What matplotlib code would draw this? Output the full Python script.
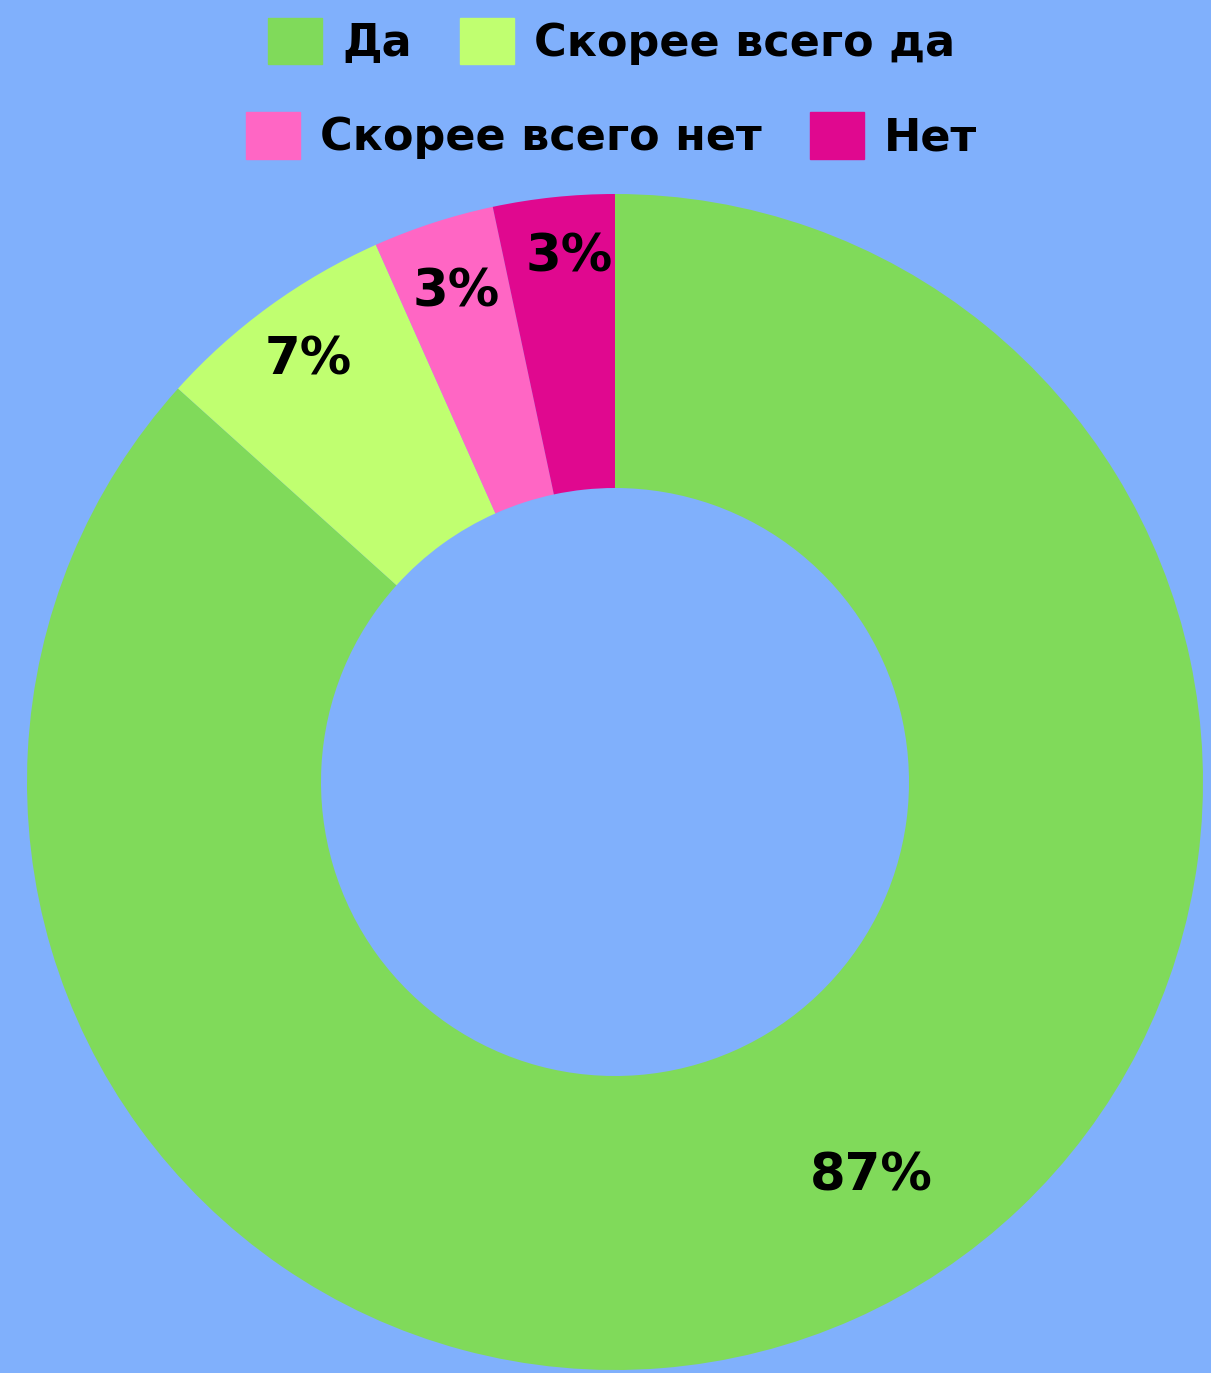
import numpy as np
import matplotlib.pyplot as plt

# survey answers (counts out of 30)
labels = ["Да", "Скорее всего да", "Скорее всего нет", "Нет"]
counts = [26, 2, 1, 1]
colors = ["#80DA5A", "#C0FF70", "#FF66C4", "#E0088F"]
bg = "#80B0FC"

# where each percent label sits (fraction of radius, angle nudge in degrees)
label_r = [0.80, 0.887, 0.875, 0.896]
label_shift = [9, 0, 0, -1]

fig = plt.figure(figsize=(12.11, 13.73), dpi=100)
fig.patch.set_facecolor(bg)

ax = fig.add_axes([27 / 1211, 3 / 1373, 1176 / 1211, 1176 / 1373])
ax.set_facecolor(bg)
wedges, _ = ax.pie(counts, colors=colors, startangle=90, counterclock=False,
                   radius=1, wedgeprops=dict(width=0.5, linewidth=0))
ax.set_xlim(-1, 1)
ax.set_ylim(-1, 1)
ax.set_aspect("equal")
ax.axis("off")

total = sum(counts)
for i, w in enumerate(wedges):
    mid = np.deg2rad((w.theta1 + w.theta2) / 2 + label_shift[i])
    pct = round(counts[i] / total * 100)
    ax.text(label_r[i] * np.cos(mid), label_r[i] * np.sin(mid), f"{pct}%",
            ha="center", va="center", fontsize=37, fontweight="bold",
            family="DejaVu Sans", color="black")

# legend in two centred rows
handles = [plt.Rectangle((0, 0), 1, 1, color=c) for c in colors]
rows = [(0, 0.970), (2, 0.901)]
for start, y in rows:
    fig.legend(handles[start:start + 2], labels[start:start + 2], ncol=2,
               loc="center", bbox_to_anchor=(0.505, y), frameon=False,
               prop=dict(family="DejaVu Sans", weight="bold", size=32),
               handlelength=1.22, handleheight=1.22, handletextpad=0.45,
               columnspacing=1.08, borderaxespad=0, borderpad=0)

fig.savefig("out.png", dpi=100, facecolor=bg)
